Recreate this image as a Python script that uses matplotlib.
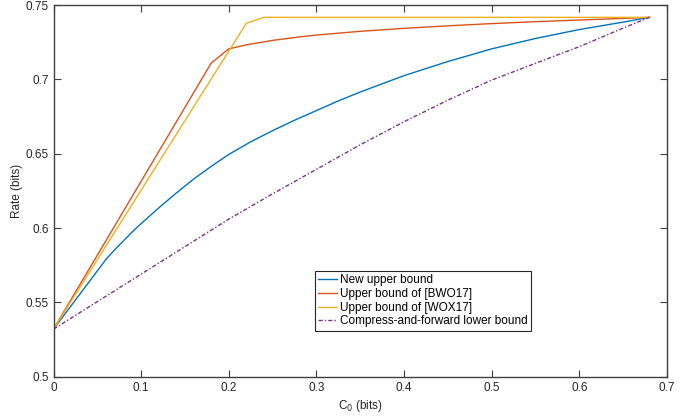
import matplotlib
matplotlib.use('Agg')
import matplotlib.pyplot as plt

plt.rcParams['font.family'] = ['Liberation Sans', 'DejaVu Sans']

# new upper bound
x_new = [0, 0.06, 0.07, 0.08, 0.09, 0.1, 0.12, 0.14, 0.16, 0.18, 0.2, 0.225, 0.25, 0.275,
         0.3, 0.325, 0.35, 0.375, 0.4, 0.45, 0.5, 0.55, 0.6, 0.65, 0.68]
y_new = [0.532, 0.579, 0.5855, 0.5915, 0.5975, 0.603, 0.6135, 0.6235, 0.633, 0.6415, 0.6495,
         0.658, 0.6655, 0.6725, 0.679, 0.6855, 0.6915, 0.697, 0.7025, 0.712, 0.7205,
         0.7275, 0.7335, 0.7385, 0.7417]

# upper bound of [BWO17]
x_bwo = [0, 0.18, 0.2, 0.22, 0.25, 0.28, 0.3, 0.35, 0.4, 0.45, 0.5, 0.55, 0.6, 0.65, 0.68]
y_bwo = [0.532, 0.711, 0.7205, 0.7232, 0.7262, 0.7285, 0.7298, 0.7323, 0.7343, 0.736,
         0.7375, 0.7388, 0.7399, 0.741, 0.7417]

# upper bound of [WOX17]
x_wox = [0, 0.22, 0.24, 0.68]
y_wox = [0.532, 0.7377, 0.7417, 0.7417]

# compress-and-forward lower bound
x_cf = [0, 0.05, 0.1, 0.15, 0.2, 0.25, 0.3, 0.35, 0.4, 0.45, 0.5, 0.55, 0.6, 0.65, 0.68]
y_cf = [0.532, 0.5505, 0.569, 0.5875, 0.606, 0.623, 0.6395, 0.656, 0.6715, 0.686, 0.6995,
        0.7108, 0.722, 0.7345, 0.7417]

xticks = [0, 0.1, 0.2, 0.3, 0.4, 0.5, 0.6, 0.7]
yticks = [0.5, 0.55, 0.6, 0.65, 0.7, 0.75]

fig = plt.figure(figsize=(6.94, 4.17), dpi=100)
ax = fig.add_axes([0.0771, 0.0966, 0.884, 0.8914])

ax.plot(x_new, y_new, color='#0072BD', lw=1.0, label='New upper bound')
ax.plot(x_bwo, y_bwo, color='#D95319', lw=1.0, label='Upper bound of [BWO17]')
ax.plot(x_wox, y_wox, color='#EDB120', lw=1.0, label='Upper bound of [WOX17]')
ax.plot(x_cf, y_cf, color='#7E2F8E', lw=1.0, ls=(0, (3, 1.5, 1, 1.5)),
        label='Compress-and-forward lower bound')

ax.set_xlim(0, 0.7)
ax.set_ylim(0.5, 0.75)
ax.set_xticks(xticks)
ax.set_xticklabels(['%g' % v for v in xticks])
ax.set_yticks(yticks)
ax.set_yticklabels(['%g' % v for v in yticks])

axcol = '#404040'
for s in ax.spines.values():
    s.set_color(axcol)
    s.set_linewidth(1.0)
ax.tick_params(direction='in', length=5, width=0.8, colors=axcol, labelsize=8.5,
               top=True, right=True, labelcolor='#262626')

ax.set_xlabel('C$_0$ (bits)', fontsize=8.5, color='#262626', labelpad=3)
ax.set_ylabel('Rate (bits)', fontsize=8.5, color='#262626', labelpad=1.5)

leg = ax.legend(loc='lower left', bbox_to_anchor=(0.426, 0.123), fontsize=8.5,
                fancybox=False, framealpha=1, edgecolor='#262626',
                handlelength=1.6, handletextpad=0.2, labelspacing=0.15,
                borderpad=0.3, borderaxespad=0)
leg.get_frame().set_linewidth(0.8)

fig.savefig('out.png', dpi=100)
